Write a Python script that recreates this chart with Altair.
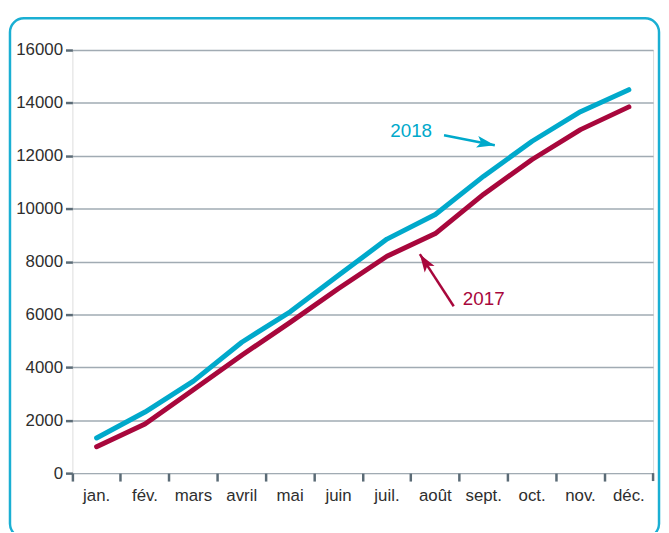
import altair as alt
import pandas as pd

# ---- data ----
months = ['jan.', 'fév.', 'mars', 'avril', 'mai', 'juin',
          'juil.', 'août', 'sept.', 'oct.', 'nov.', 'déc.']
v2018 = [1330, 2310, 3480, 4950, 6100, 7480, 8850, 9780, 11230, 12550, 13670, 14500]
v2017 = [1000, 1860, 3150, 4460, 5700, 6980, 8200, 9060, 10550, 11860, 12990, 13850]
years = ['2017', '2018']
colors = ['#a8073c', '#00a9cb']
y_ticks = [0, 2000, 4000, 6000, 8000, 10000, 12000, 14000, 16000]

# annotation positions in data units (x: month index, band edges at integers)
ann_label = ['2018', '2017']
ann_x = [7.0, 8.5]
ann_y = [12930, 6590]
arrow_x_tail = [7.68, 7.88]
arrow_y_tail = [12780, 6310]
arrow_x_tip = [8.73, 7.18]
arrow_y_tip = [12400, 8280]
arrow_angle = [11, 237]

FONT = 'Liberation Sans, Arial, sans-serif'
SLATE = '#5b6b76'
W, H = 586, 427

rows = []
for m, a, b in zip(months, v2017, v2018):
    rows.append({'month': m, 'year': '2017', 'value': a})
    rows.append({'month': m, 'year': '2018', 'value': b})
df = pd.DataFrame(rows)

ann = pd.DataFrame({
    'label': ann_label, 'x': ann_x, 'y': ann_y,
    'xt': arrow_x_tail, 'yt': arrow_y_tail,
    'xh': arrow_x_tip, 'yh': arrow_y_tip, 'angle': arrow_angle,
})

yscale = alt.Scale(domain=[0, 16000], nice=False)
y_axis = alt.Axis(values=y_ticks, format='d', title=None, domain=False, tickSize=7, tickWidth=2.5,
                  tickColor=SLATE, labelPadding=3, labelFontSize=17, labelFont=FONT,
                  labelColor='#2e2e2e', grid=True, gridColor='#a1abb3', gridWidth=1.5)
xq = alt.Scale(domain=[0, 12], nice=False, zero=False)
col = alt.Scale(domain=years, range=colors)

frame = alt.Chart(pd.DataFrame({'a': [0]})).mark_rect(
    fill=None, stroke='#1aafd3', strokeWidth=2.5, cornerRadius=14
).encode(x=alt.value(-63), x2=alt.value(592), y=alt.value(-32), y2=alt.value(492))

lines = alt.Chart(df).mark_line(strokeWidth=5, strokeCap='round', strokeJoin='round').encode(
    x=alt.X('month:N', sort=months,
            scale=alt.Scale(type='band', paddingInner=0, paddingOuter=0),
            axis=alt.Axis(title=None, bandPosition=0, domain=False, grid=False,
                          tickSize=8, tickWidth=2.5, tickColor=SLATE, labelAngle=0,
                          labelPadding=7, labelFontSize=17, labelFont=FONT,
                          labelColor='#2e2e2e')),
    y=alt.Y('value:Q', scale=yscale, axis=y_axis),
    color=alt.Color('year:N', scale=col, legend=None),
)

last_tick = alt.Chart(pd.DataFrame({'a': [0]})).mark_rule(
    color=SLATE, strokeWidth=2.5
).encode(x=alt.value(W), y=alt.value(H), y2=alt.value(H + 8))

texts = alt.Chart(ann).mark_text(fontSize=19, font=FONT, align='center', baseline='middle').encode(
    x=alt.X('x:Q', scale=xq, axis=None),
    y=alt.Y('y:Q', scale=yscale, axis=y_axis),
    text='label:N',
    color=alt.Color('label:N', scale=alt.Scale(domain=['2017', '2018'], range=colors), legend=None),
)

shafts = alt.Chart(ann).mark_rule(strokeWidth=2.5).encode(
    x=alt.X('xt:Q', scale=xq, axis=None),
    x2='xh:Q',
    y=alt.Y('yt:Q', scale=yscale, axis=y_axis),
    y2='yh:Q',
    color=alt.Color('label:N', scale=alt.Scale(domain=['2017', '2018'], range=colors), legend=None),
)

heads = alt.Chart(ann).mark_point(
    shape='M0,0L-2,-0.65L-1.55,0L-2,0.65Z', filled=True, size=330, opacity=1, strokeWidth=0
).encode(
    x=alt.X('xh:Q', scale=xq, axis=None),
    y=alt.Y('yh:Q', scale=yscale, axis=y_axis),
    angle=alt.Angle('angle:Q', scale=None),
    color=alt.Color('label:N', scale=alt.Scale(domain=['2017', '2018'], range=colors), legend=None),
)

chart = alt.layer(frame, lines, last_tick, texts, shafts, heads).resolve_scale(
    x='independent'
).properties(
    width=W, height=H,
    autosize=alt.AutoSizeParams(type='none'),
    padding={'left': 65, 'top': 40, 'right': 8, 'bottom': 57},
).configure_view(
    stroke=SLATE, strokeWidth=3
).configure(background='white')

chart.save('out.html', embed_options={'renderer': 'svg', 'actions': False})
